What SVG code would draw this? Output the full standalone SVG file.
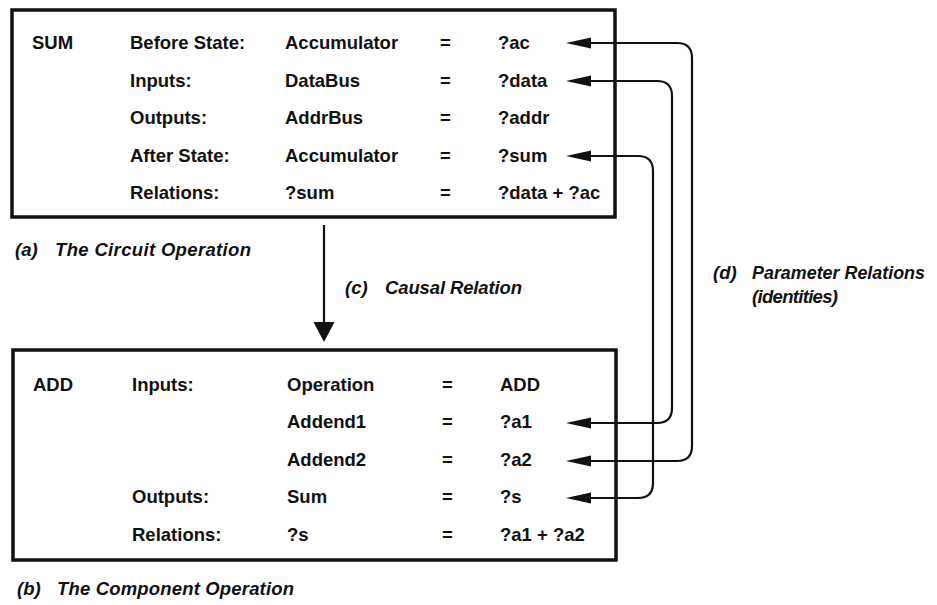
<svg xmlns="http://www.w3.org/2000/svg" width="937" height="605" viewBox="0 0 937 605">
  <style>
    .box { fill: none; stroke: #111; stroke-width: 3.5; }
    .t { font-family: "Liberation Sans", Arial, sans-serif; font-weight: bold; font-size: 18.5px; fill: #111; }
    .cap { font-family: "Liberation Sans", Arial, sans-serif; font-weight: bold; font-style: italic; font-size: 18.5px; fill: #111; }
    .wire { fill: none; stroke: #111; stroke-width: 2.2; }
    .head { fill: #111; stroke: none; }
  </style>
  <defs>
    <!-- left-pointing arrowhead, tip at origin -->
    <path id="lhead" class="head" d="M0,0 L25,-5.5 L25,5.5 Z"/>
  </defs>
  <rect width="937" height="605" fill="#fff"/>

  <!-- Circuit operation (SUM) -->
  <g id="sum-op">
    <rect class="box" x="12" y="10" width="603" height="207"/>
    <text class="t" x="32" y="49">SUM</text>
    <text class="t" x="130" y="49">Before State:</text>
    <text class="t" x="285" y="49">Accumulator</text>
    <text class="t" x="440" y="49">=</text>
    <text class="t" x="498" y="49">?ac</text>
    <text class="t" x="130" y="87">Inputs:</text>
    <text class="t" x="285" y="87">DataBus</text>
    <text class="t" x="440" y="87">=</text>
    <text class="t" x="498" y="87">?data</text>
    <text class="t" x="130" y="124">Outputs:</text>
    <text class="t" x="285" y="124">AddrBus</text>
    <text class="t" x="440" y="124">=</text>
    <text class="t" x="498" y="124">?addr</text>
    <text class="t" x="130" y="162">After State:</text>
    <text class="t" x="285" y="162">Accumulator</text>
    <text class="t" x="440" y="162">=</text>
    <text class="t" x="498" y="162">?sum</text>
    <text class="t" x="130" y="199">Relations:</text>
    <text class="t" x="285" y="199">?sum</text>
    <text class="t" x="440" y="199">=</text>
    <text class="t" x="498" y="199">?data + ?ac</text>
  </g>

  <!-- Component operation (ADD) -->
  <g id="add-op">
    <rect class="box" x="13" y="350" width="603" height="210"/>
    <text class="t" x="33" y="391">ADD</text>
    <text class="t" x="132" y="391">Inputs:</text>
    <text class="t" x="287" y="391">Operation</text>
    <text class="t" x="442" y="391">=</text>
    <text class="t" x="500" y="391">ADD</text>
    <text class="t" x="287" y="428">Addend1</text>
    <text class="t" x="442" y="428">=</text>
    <text class="t" x="500" y="428">?a1</text>
    <text class="t" x="287" y="466">Addend2</text>
    <text class="t" x="442" y="466">=</text>
    <text class="t" x="500" y="466">?a2</text>
    <text class="t" x="132" y="503">Outputs:</text>
    <text class="t" x="287" y="503">Sum</text>
    <text class="t" x="442" y="503">=</text>
    <text class="t" x="500" y="503">?s</text>
    <text class="t" x="132" y="541">Relations:</text>
    <text class="t" x="287" y="541">?s</text>
    <text class="t" x="442" y="541">=</text>
    <text class="t" x="500" y="541">?a1 + ?a2</text>
  </g>

  <!-- Captions -->
  <g id="cap-a"><text class="cap" x="15" y="256">(a)</text><text class="cap" x="55" y="256" textLength="196" lengthAdjust="spacing">The Circuit Operation</text></g>
  <g id="cap-b"><text class="cap" x="17" y="595">(b)</text><text class="cap" x="57" y="595" textLength="237" lengthAdjust="spacing">The Component Operation</text></g>
  <g id="cap-c"><text class="cap" x="345" y="294">(c)</text><text class="cap" x="385" y="294" textLength="137" lengthAdjust="spacing">Causal Relation</text></g>
  <g id="cap-d">
    <text class="cap" x="713" y="279">(d)</text>
    <text class="cap" x="752" y="279" textLength="173" lengthAdjust="spacingAndGlyphs">Parameter Relations</text>
    <text class="cap" x="752" y="303" textLength="86" lengthAdjust="spacing">(identities)</text>
  </g>

  <!-- Connectors -->
  <g id="connectors">
    <!-- causal relation -->
    <line class="wire" x1="324" y1="225" x2="324" y2="323" stroke-width="2.5"/>
    <path class="head" d="M313.5,322 L334.5,322 L324,342 Z"/>

    <!-- ?ac <-> ?a2 -->
    <path class="wire" d="M588,43 L677,43 Q692,43 692,58 L692,446 Q692,461 677,461 L588,461"/>
    <use href="#lhead" x="566" y="43"/>
    <use href="#lhead" x="566" y="461"/>
    <!-- ?data <-> ?a1 -->
    <path class="wire" d="M588,81 L657,81 Q672,81 672,96 L672,408 Q672,423 657,423 L588,423"/>
    <use href="#lhead" x="566" y="81"/>
    <use href="#lhead" x="566" y="423"/>
    <!-- ?sum <-> ?s -->
    <path class="wire" d="M588,156 L638,156 Q653,156 653,171 L653,483 Q653,498 638,498 L588,498"/>
    <use href="#lhead" x="566" y="156"/>
    <use href="#lhead" x="566" y="498"/>
  </g>
</svg>
